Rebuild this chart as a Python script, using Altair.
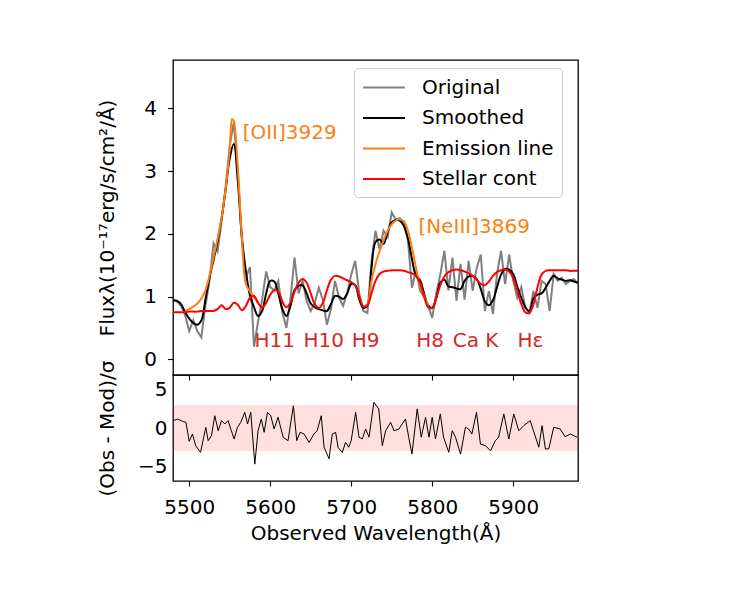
import altair as alt
import pandas as pd

FONT = "DejaVu Sans"
X_DOMAIN = [5480, 5980]
Y_DOMAIN = [-0.25, 4.77]
R_DOMAIN = [-6.9, 6.9]
BAND = [-3, 3]
X_TICKS = [5500, 5600, 5700, 5800, 5900]

SERIES = ["Original", "Smoothed", "Emission line", "Stellar cont"]
COLORS = ["#808080", "#000000", "#ff7f0e", "#ff0000"]

# Spectrum sampled every 5 Å
wave = list(range(5480, 5981, 5))
original = [
    0.95, 0.92, 0.85, 0.70, 0.45, 0.62, 0.45, 0.35, 0.85, 1.25,
    1.85, 1.72, 2.20, 2.75, 3.40, 3.78, 3.00, 1.90, 1.30, 1.47,
    0.20, 0.60, 0.95, 1.40, 1.15, 1.10, 1.25, 0.75, 0.50, 0.95,
    1.62, 1.05, 1.25, 0.93, 0.77, 0.90, 1.14, 0.95, 0.55, 0.80,
    1.25, 0.98, 0.85, 1.05, 1.35, 1.57, 1.05, 0.77, 0.74, 1.55,
    2.05, 1.75, 2.05, 1.95, 2.34, 2.23, 2.25, 2.15, 1.90, 1.14,
    1.42, 1.09, 1.00, 0.85, 0.66, 1.05, 1.35, 1.73, 1.10, 1.62,
    0.93, 1.52, 0.95, 1.57, 1.09, 1.46, 1.67, 0.77, 1.09, 0.72,
    1.36, 1.73, 1.20, 1.67, 1.25, 0.98, 1.15, 0.82, 0.74, 1.09,
    0.82, 1.25, 1.20, 0.77, 1.36, 1.25, 1.30, 1.20, 1.25, 1.28,
    1.20,
]
smoothed = [
    0.94, 0.93, 0.88, 0.75, 0.65, 0.58, 0.55, 0.62, 0.95, 1.30,
    1.58, 1.88, 2.25, 2.70, 3.20, 3.43, 2.85, 1.95, 1.40, 1.02,
    0.83, 0.69, 0.77, 1.05, 1.25, 1.24, 1.05, 0.80, 0.69, 0.85,
    1.10, 1.17, 1.18, 1.05, 0.89, 0.83, 0.80, 0.78, 0.77, 0.88,
    1.01, 1.00, 0.96, 1.05, 1.20, 1.18, 0.95, 0.82, 0.86, 1.45,
    1.87, 1.91, 1.84, 2.03, 2.18, 2.22, 2.21, 2.13, 1.93, 1.60,
    1.33, 1.26, 1.05, 0.86, 0.82, 0.97, 1.22, 1.27, 1.16, 1.15,
    1.13, 1.12, 1.25, 1.32, 1.33, 1.28, 1.12, 0.92, 0.86, 0.94,
    1.15, 1.35, 1.44, 1.43, 1.36, 1.16, 0.98, 0.83, 0.77, 0.97,
    1.03, 1.05, 1.14, 1.25, 1.33, 1.29, 1.27, 1.25, 1.26, 1.24,
    1.22,
]
stellar = [
    0.75, 0.75, 0.75, 0.75, 0.76, 0.76, 0.76, 0.77, 0.77, 0.77,
    0.77, 0.80, 0.86, 0.80, 0.82, 0.90, 0.87, 0.78, 0.85, 0.98,
    1.01, 0.90, 0.82, 0.90, 1.03, 1.10, 1.08, 0.92, 0.83, 0.90,
    1.08, 1.22, 1.28, 1.22, 1.05, 0.88, 0.82, 0.90, 1.10, 1.27,
    1.33, 1.32, 1.29, 1.26, 1.23, 1.18, 1.00, 0.84, 0.86, 1.05,
    1.25, 1.36, 1.40, 1.41, 1.42, 1.42, 1.42, 1.41, 1.39, 1.37,
    1.33, 1.22, 1.00, 0.83, 0.82, 0.98, 1.18, 1.32, 1.39, 1.42,
    1.43, 1.42, 1.40, 1.37, 1.33, 1.27, 1.20, 1.18, 1.24, 1.33,
    1.39, 1.42, 1.43, 1.40, 1.30, 1.10, 0.88, 0.75, 0.74, 0.88,
    1.15, 1.35, 1.41, 1.42, 1.42, 1.42, 1.42, 1.42, 1.41, 1.41,
    1.41,
]

# Emission-line model around the two fitted lines
oii_wave = [5495, 5500, 5505, 5510, 5515, 5520, 5525, 5530, 5535, 5540,
            5545, 5550, 5553, 5555, 5560, 5565, 5570, 5575, 5580, 5585]
oii_flux = [0.77, 0.80, 0.84, 0.89, 0.97, 1.10, 1.33, 1.62, 1.92, 2.25,
            2.72, 3.35, 3.83, 3.80, 3.05, 1.95, 1.20, 1.08, 0.99, 0.90]
neiii_wave = list(range(5715, 5796, 5))
neiii_flux = [0.84, 0.88, 1.25, 1.52, 1.72, 1.90, 2.05, 2.15, 2.21,
              2.23, 2.20, 2.05, 1.78, 1.46, 1.18, 1.02, 0.85]

# Normalised residuals
resid_wave = [
    5480.7, 5485.6, 5491.8, 5496, 5500, 5504, 5508, 5514, 5520.5, 5523.4,
    5527.5, 5531.6, 5535.8, 5539.9, 5544, 5548, 5552, 5555.5, 5559.6, 5563.7,
    5568.6, 5572, 5576, 5581, 5585, 5589, 5592.5, 5596.6, 5600.7, 5604.8,
    5609.7, 5616, 5622, 5628.6, 5632.8, 5636.9, 5641.8, 5648, 5654, 5658,
    5663, 5666.5, 5672.6, 5676.7, 5680.8, 5683.7, 5689, 5693, 5697, 5700,
    5705.5, 5709.6, 5713.7, 5717.8, 5722, 5728, 5734, 5738.4, 5742.5, 5748.7,
    5752.8, 5759, 5763, 5767, 5771, 5775, 5781.5, 5786.5, 5791.8, 5796,
    5800, 5804, 5810, 5814, 5820.5, 5824.7, 5828.8, 5835, 5841, 5845,
    5849, 5854.7, 5859.6, 5865.8, 5872, 5878, 5882, 5888.4, 5894.6, 5900.7,
    5906.9, 5913, 5921, 5925, 5931.6, 5935.6, 5939.8, 5944, 5950, 5958,
    5964, 5970.6, 5978.8,
]
resid = [
    0.96, 1.17, 0.87, 0.74, -1.74, -0.78, -2.3, -3.17, 0.09, -1.65,
    -1.0, 1.6, -0.35, 0.96, 0.52, 0.96, -0.35, -1.43, 0.09, 0.74,
    2.04, 0.52, 2.04, -4.7, -0.35, 1.17, -0.56, 2.04, 1.6, -0.13,
    1.39, -1.2, -1.65, 2.9, -1.65, -0.56, -0.78, -1.87, -0.78, -0.35,
    1.6, -2.5, -4.0, -0.78, -0.56, -2.5, -3.2, -1.87, -2.5, -1.65,
    2.04, -1.2, -1.43, -0.13, -1.2, 3.35, 2.48, -2.3, -0.35, 0.74,
    -0.35, -0.13, 0.52, 1.17, -1.2, -3.4, 2.48, -1.2, 1.39, -1.2,
    1.39, -1.43, 1.83, -1.2, -3.17, -0.35, -1.2, -3.4, 0.09, -0.13,
    -0.78, 2.04, -2.1, -2.3, -2.96, -1.65, -1.2, 1.83, -1.43, 1.83,
    -0.35, 0.3, 0.96, -0.35, -2.5, 0.3, -2.74, -2.7, 0.09, -0.13,
    -1.13, -0.78, -1.2,
]

# Line labels
abs_names = ["H11", "H10", "H9", "H8", "Ca K", "H\u03b5"]
abs_wave = [5605.7, 5666.1, 5717.9, 5797.4, 5853.5, 5921.3]
abs_flux = [0.19] * len(abs_names)
em_names = ["[OII]3929", "[NeIII]3869"]
em_wave = [5566.0, 5783.0]
em_flux = [3.51, 2.02]

spec = pd.DataFrame({"wave": wave, "Original": original,
                     "Smoothed": smoothed, "Stellar cont": stellar})
spec_long = spec.melt("wave", var_name="series", value_name="flux")
emis = pd.concat([
    pd.DataFrame({"wave": oii_wave, "flux": oii_flux, "seg": "oii"}),
    pd.DataFrame({"wave": neiii_wave, "flux": neiii_flux, "seg": "neiii"}),
])
emis["series"] = "Emission line"
abs_df = pd.DataFrame({"wave": abs_wave, "flux": abs_flux, "label": abs_names})
em_df = pd.DataFrame({"wave": em_wave, "flux": em_flux, "label": em_names})
res_df = pd.DataFrame({"wave": resid_wave, "resid": resid})
band_df = pd.DataFrame({"wave": [X_DOMAIN[0]], "wave2": [X_DOMAIN[1]],
                        "resid": [BAND[0]], "resid2": [BAND[1]]})

x_scale = alt.Scale(domain=X_DOMAIN, nice=False, zero=False)
top_x = alt.X("wave:Q", scale=x_scale,
              axis=alt.Axis(values=X_TICKS, labels=False, ticks=True,
                            tickSize=5, title=None))
top_y = alt.Y("flux:Q", scale=alt.Scale(domain=Y_DOMAIN, nice=False, zero=False),
              axis=alt.Axis(values=[0, 1, 2, 3, 4], tickSize=5.5, labelPadding=11,
                            title="Flux\u03bb(10\u207b\u00b9\u2077erg/s/cm\u00b2/\u00c5)",
                            titleX=-56))
color = alt.Color(
    "series:N",
    scale=alt.Scale(domain=SERIES, range=COLORS),
    legend=alt.Legend(
        title=None, orient="none", legendX=181, legendY=8,
        symbolType="M-1,0H3", symbolSize=441, symbolStrokeWidth=2,
        labelFont=FONT, labelFontSize=20, labelColor="black",
        labelOffset=37, padding=8, rowPadding=8.5,
        fillColor="white", strokeColor="#cccccc", cornerRadius=4,
    ),
)

SMOOTH = "catmull-rom"
base_top = alt.Chart(spec_long)
orig_line = base_top.transform_filter(alt.datum.series == "Original").mark_line(
    strokeWidth=2).encode(x=top_x, y=top_y, color=color)
smooth_line = base_top.transform_filter(alt.datum.series == "Smoothed").mark_line(
    strokeWidth=2, interpolate=SMOOTH).encode(x=top_x, y=top_y, color=color)
emis_line = alt.Chart(emis).mark_line(strokeWidth=2, interpolate=SMOOTH).encode(
    x=top_x, y=top_y, color=color, detail="seg:N")
stellar_line = base_top.transform_filter(alt.datum.series == "Stellar cont").mark_line(
    strokeWidth=2, interpolate=SMOOTH).encode(x=top_x, y=top_y, color=color)
abs_text = alt.Chart(abs_df).mark_text(
    font=FONT, fontSize=20, color="#d62728", align="center", baseline="alphabetic"
).encode(x=top_x, y=top_y, text="label:N")
em_text = alt.Chart(em_df).mark_text(
    font=FONT, fontSize=20, color="#ff7f0e", align="left", baseline="alphabetic"
).encode(x=top_x, y=top_y, text="label:N")

top = alt.layer(orig_line, smooth_line, emis_line, stellar_line, abs_text, em_text
                ).properties(width=405, height=315)

bot_x = alt.X("wave:Q", scale=x_scale,
              axis=alt.Axis(values=X_TICKS, tickSize=5, labelPadding=11,
                            title="Observed Wavelength(\u00c5)", titlePadding=6,
                            format="d"))
bot_y = alt.Y("resid:Q", scale=alt.Scale(domain=R_DOMAIN, nice=False, zero=False),
              axis=alt.Axis(values=[-5, 0, 5], tickSize=0, labelPadding=6,
                            title="(Obs - Mod)/\u03c3", titleX=-56))
band = alt.Chart(band_df).mark_rect(color="#ff0000", opacity=0.13).encode(
    x=bot_x, x2="wave2:Q", y=bot_y, y2="resid2:Q")
res_line = alt.Chart(res_df).mark_line(color="black", strokeWidth=1).encode(
    x=bot_x, y=bot_y)
bottom = alt.layer(band, res_line).properties(width=405, height=106)

chart = alt.vconcat(top, bottom, spacing=0, bounds="flush").properties(
    padding={"left": 96, "top": 59, "right": 20, "bottom": 10},
    background="white",
).configure_view(stroke="black", strokeWidth=1.3).configure_axis(
    domain=False, grid=False, tickColor="black", tickWidth=1.1,
    labelFont=FONT, labelFontSize=20, labelColor="black",
    titleFont=FONT, titleFontSize=20, titleFontWeight="normal", titleColor="black",
)

chart.save("out.html", embed_options={"renderer": "svg", "actions": False})
